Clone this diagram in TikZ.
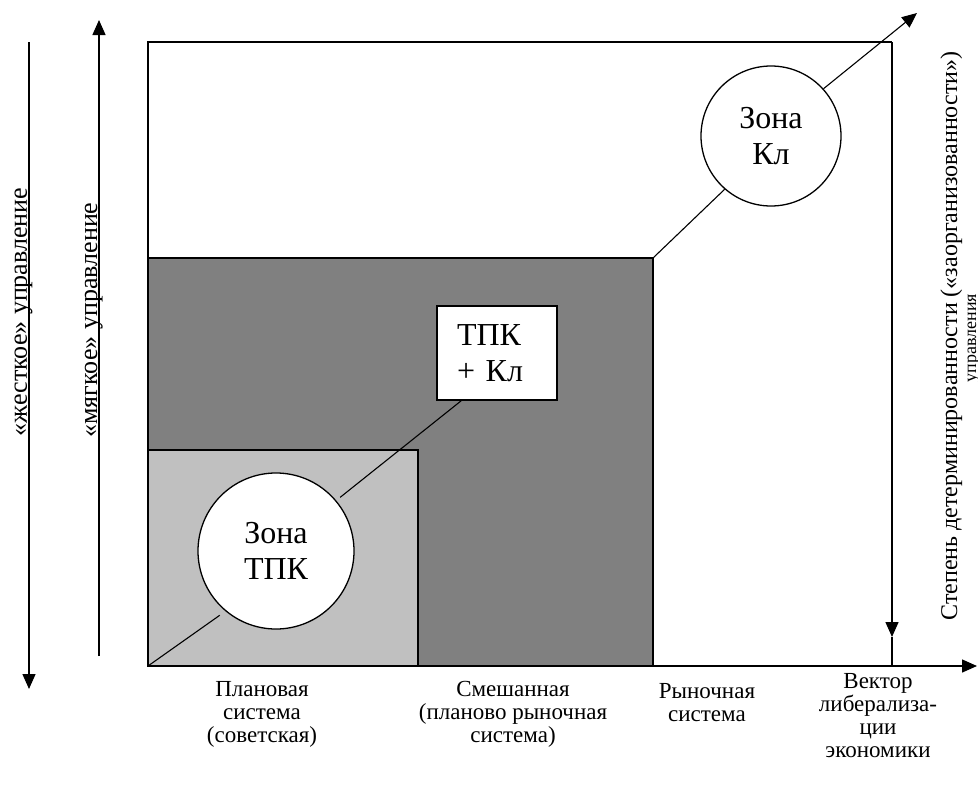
\documentclass[tikz,border=0pt]{standalone}
\usepackage{fontspec}
\setmainfont{Liberation Serif}
\usetikzlibrary{arrows.meta,calc}
\definecolor{darkfill}{RGB}{128,128,128}
\definecolor{lightfill}{RGB}{192,192,192}
\tikzset{
  frame/.style={line width=1.4pt},
  conn/.style={line width=1.1pt},
  arr/.style={-{Triangle[length=15pt,width=13pt]}},
  zone/.style={circle, draw, fill=white, line width=1.3pt, minimum size=#1, inner sep=0pt, align=center, font=\fontsize{32}{36}\selectfont},
  tpkbox/.style={draw, fill=white, line width=1.3pt, text width=80pt, inner xsep=20pt, inner ysep=0pt, minimum height=94pt, align=left, font=\fontsize{32}{36}\selectfont},
  axislabel/.style={align=center, inner sep=0pt, font=\fontsize{23}{23}\selectfont},
  sidelabel/.style={rotate=90, anchor=base, inner sep=0pt, font=\fontsize{26}{30}\selectfont},
}
\begin{document}
\begin{tikzpicture}[x=1pt,y=-1pt]
\useasboundingbox (0,0) rectangle (978,787);
\clip (0,0) rectangle (978,787);
\fill[white] (0,0) rectangle (978,787);

% regions
\filldraw[fill=darkfill, frame] (148,258) rectangle (653,666);
\filldraw[fill=lightfill, frame] (148,450) rectangle (418,666);
\draw[frame] (892,42) -- (148,42) -- (148,666);

\coordinate (O) at (148,666);
\coordinate (dk) at (653,258);
\coordinate (tip) at (917,13);
\coordinate (rtop) at (892,42);
\coordinate (rhead) at (892,637);
\coordinate (rbot) at (892,666);
\coordinate (xend) at (977,666);

% axes
\draw[frame, arr] (rtop) -- (rhead);
\draw[frame] (rhead) -- (rbot);
\draw[frame, arr] (O) -- (xend);

% zones
\node[zone=156pt] (tpk) at (276,551) {Зона\\ТПК};
\node[zone=140pt] (kl) at (771,136) {Зона\\Кл};
\node[tpkbox] (mix) at (497,353) {ТПК\\+ Кл};

% diagonal
\draw[conn, shorten >=7pt] (O) -- (tpk.230);
\draw[conn, shorten <=5pt] (tpk.40) -- ($(mix.south west)+(25,0)$);
\draw[conn] (dk) -- (kl.229);
\draw[conn, arr] (kl.42) -- (tip);

% left arrows
\coordinate (h1) at (29,42);
\coordinate (h2) at (29,689);
\coordinate (s1) at (99,656);
\coordinate (s2) at (99,20);
\draw[frame, arr] (h1) -- (h2);
\draw[frame, arr] (s1) -- (s2);
\node[sidelabel] (hard) at (27,312) {«жесткое» управление};
\node[sidelabel] (soft) at (97,320) {«мягкое» управление};

% right label
\node[sidelabel, font=\fontsize{24}{28}\selectfont] (deg) at (957,336) {Степень детерминированности («заорганизованности»)};
\node[sidelabel, font=\fontsize{18}{20}\selectfont] (deg2) at (976,338) {управления};

% bottom labels
\node[axislabel] (l1) at (262,714) {Плановая\\система\\(советская)};
\node[axislabel] (l2) at (513,714) {Смешанная\\(планово рыночная\\система)};
\node[axislabel] (l3) at (707,703) {Рыночная\\система};
\node[axislabel] (l4) at (878,716) {Вектор\\либерализа-\\ции\\экономики};
\end{tikzpicture}
\end{document}
